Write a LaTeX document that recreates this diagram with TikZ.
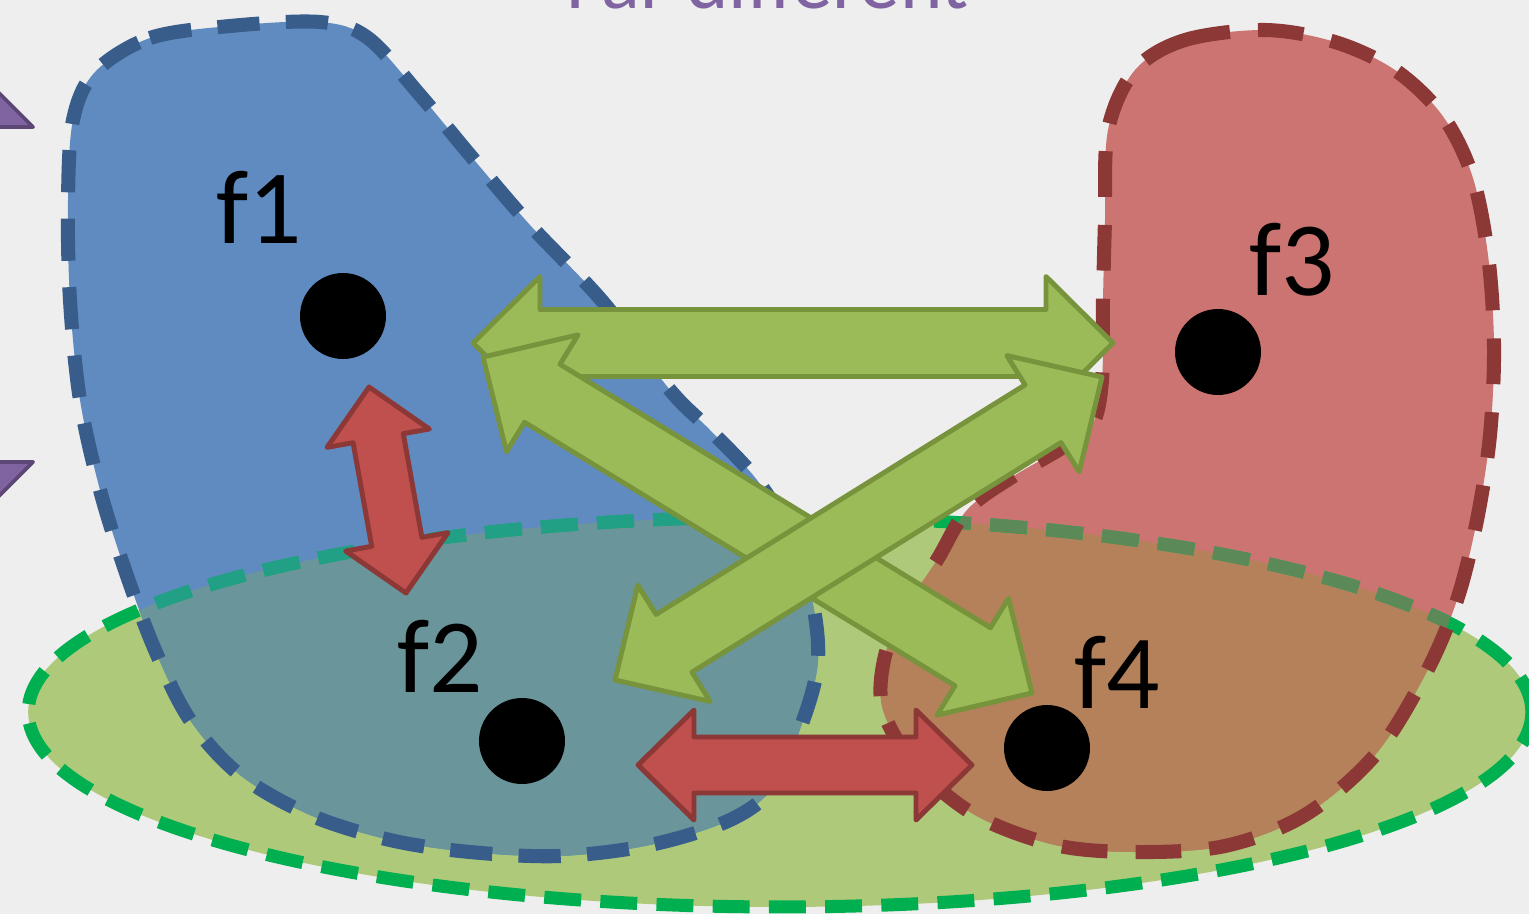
\documentclass[tikz,border=0pt]{standalone}
\usepackage{fontspec}
\newfontfamily\carlito{Carlito}
\usetikzlibrary{calc}
\definecolor{bg}{HTML}{EEEEEE}
\definecolor{bluefill}{HTML}{608BC1}
\definecolor{blueborder}{HTML}{385D8A}
\definecolor{redfill}{HTML}{CC7471}
\definecolor{redborder}{HTML}{8C3836}
\definecolor{greenfill}{HTML}{AEC97A}
\definecolor{greenborder}{HTML}{00B050}
\definecolor{bgover}{HTML}{6A959A}
\definecolor{rgover}{HTML}{B4815A}
\definecolor{gbinblue}{HTML}{22A085}
\definecolor{gbinred}{HTML}{5B8A58}
\definecolor{arrgreen}{HTML}{9BBB59}
\definecolor{arrgreenb}{HTML}{77933C}
\definecolor{arrred}{HTML}{C0504D}
\definecolor{arrredb}{HTML}{8C3836}
\definecolor{purp}{HTML}{8064A2}
\definecolor{purpb}{HTML}{5C4776}
\newcommand{\bluepath}{plot[smooth cycle,tension=0.55] coordinates {(95,72) (150,38) (230,26) (320,22) (368,38) (420,95) (470,155) (530,225) (603,302) (670,390) (710,430) (757,480) (790,535) (812,600) (818,660) (805,715) (775,785) (730,820) (650,845) (560,856) (470,852) (390,840) (310,815) (240,775) (190,720) (155,650) (125,570) (100,490) (80,400) (70,300) (68,200) (73,120)}}
\newcommand{\redpath}{plot[smooth cycle,tension=0.55] coordinates {(1135,70) (1185,40) (1265,30) (1335,42) (1395,70) (1442,115) (1472,175) (1488,255) (1494,345) (1490,435) (1477,520) (1457,600) (1425,675) (1375,755) (1305,815) (1225,846) (1135,852) (1055,845) (975,815) (915,765) (883,710) (884,660) (903,612) (937,560) (967,510) (1012,477) (1060,449) (1092,425) (1102,380) (1103,300) (1105,220) (1108,130)}}
\newcommand{\ellpath}{(780,712) ellipse [x radius=15.04cm, y radius=3.9cm]}
\newcommand{\dblarrow}[6]{%
  \draw[#6] (#1)
   -- ($(#1)!#3!(#2)!#5!90:(#2)$)
   -- ($(#1)!#3!(#2)!#4!90:(#2)$)
   -- ($(#2)!#3!(#1)!#4!-90:(#1)$)
   -- ($(#2)!#3!(#1)!#5!-90:(#1)$)
   -- (#2)
   -- ($(#2)!#3!(#1)!#5!90:(#1)$)
   -- ($(#2)!#3!(#1)!#4!90:(#1)$)
   -- ($(#1)!#3!(#2)!#4!-90:(#2)$)
   -- ($(#1)!#3!(#2)!#5!-90:(#2)$)
   -- cycle;}
\tikzset{
  blueline/.style={draw=blueborder, line width=8pt, dash pattern=on 24pt off 15pt},
  redline/.style={draw=redborder, line width=8pt, dash pattern=on 26pt off 16pt},
  greenline/.style={line width=7.4pt, dash pattern=on 21pt off 11pt},
  garrow/.style={fill=arrgreen, draw=arrgreenb, line width=2.8pt, line join=round},
  rarrow/.style={fill=arrred, draw=arrredb, line width=2.8pt, line join=round},
  dot/.style={circle, fill=black, minimum size=1.72cm, inner sep=0pt},
  lbl/.style={font=\carlito\fontsize{60}{60}\selectfont, anchor=base, inner sep=0pt, text=black},
  tri/.style={fill=purp, draw=purpb, line width=2.2pt, line join=round},
}
\begin{document}
\begin{tikzpicture}[x=0.02cm, y=-0.02cm]
\useasboundingbox (0,0) rectangle (1529,914);
\fill[bg] (0,0) rectangle (1529,914);
% regions
\fill[greenfill] \ellpath;
\fill[bluefill] \bluepath;
\fill[redfill] \redpath;
\begin{scope}
  \clip \bluepath;
  \fill[bgover] \ellpath;
\end{scope}
\begin{scope}
  \clip \redpath;
  \fill[rgover] \ellpath;
\end{scope}
% ellipse border
\draw[greenline, draw=greenborder] \ellpath;
\begin{scope}
  \clip \bluepath;
  \draw[greenline, draw=gbinblue] \ellpath;
\end{scope}
\begin{scope}
  \clip \redpath;
  \draw[greenline, draw=gbinred] \ellpath;
\end{scope}
% blob borders
\draw[blueline] \bluepath;
\draw[redline] \redpath;
% dots
\node[dot] (d1) at (343,316) {};
\node[dot] (d2) at (522,741) {};
\node[dot] (d3) at (1218,352) {};
\node[dot] (d4) at (1047,748) {};
% labels
\node[lbl] (t1) at (259,243) {f1};
\node[lbl] (t2) at (440,692) {f2};
\node[lbl] (t3) at (1292,295) {f3};
\node[lbl] (t4) at (1117,708) {f4};
% arrow end points
\coordinate (h1) at (473,343);
\coordinate (h2) at (1113,343);
\coordinate (a1) at (483,357);
\coordinate (a2) at (1032,693);
\coordinate (b1) at (1102,377);
\coordinate (b2) at (615,680);
\coordinate (v1) at (369,387);
\coordinate (v2) at (406,593);
\coordinate (r1) at (638,765);
\coordinate (r2) at (972,765);
% green arrows
\dblarrow{h1}{h2}{1.34cm}{0.67cm}{1.33cm}{garrow}
\dblarrow{a1}{a2}{1.39cm}{0.68cm}{1.37cm}{garrow}
\dblarrow{b1}{b2}{1.39cm}{0.68cm}{1.37cm}{garrow}
% red arrows
\dblarrow{v1}{v2}{1.04cm}{0.51cm}{1.04cm}{rarrow}
\dblarrow{r1}{r2}{1.12cm}{0.56cm}{1.1cm}{rarrow}
% title (cut off at the top edge, as in the reference)
\node[font=\carlito\fontsize{46}{50}\selectfont, text=purp, anchor=base west, inner sep=0pt] (title) at (566,8) {Far different};
% bullets
\draw[tri] (33,127) -- (-40,127) -- (-40,54) -- cycle;
\draw[tri] (33,462) -- (-40,462) -- (-40,535) -- cycle;
\end{tikzpicture}
\end{document}
